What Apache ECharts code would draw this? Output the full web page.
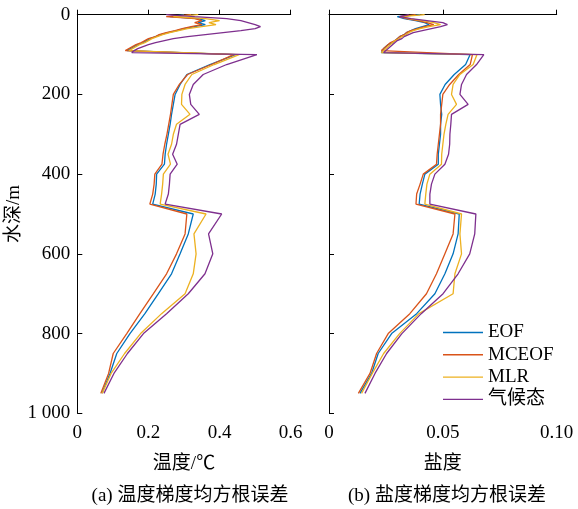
<!DOCTYPE html>
<html><head><meta charset="utf-8">
<script src="https://cdn.jsdelivr.net/npm/echarts@6/dist/echarts.min.js"></script>
<style>html,body{margin:0;padding:0;background:#fff}#c{width:578px;height:509px}</style>
</head><body><div id="c"></div>
<script>
var depths = [0,5,10,15,20,25,30,35,40,45,50,55,60,65,70,75,80,85,90,95,100,
  125,150,175,200,225,250,275,300,325,350,375,400,425,450,475,500,
  550,600,650,700,750,800,850,900,950];
var seriesNames = ['EOF','MCEOF','MLR','气候态'];
var colors = ['#0072BD','#D95319','#EDB120','#7E2F8E'];

var tempEOF = [0.30,0.26,0.34,0.36,0.34,0.36,0.33,0.30,0.28,0.255,0.235,0.22,0.205,0.195,0.185,0.17,0.16,0.15,0.14,0.135,0.445,
  0.373,0.308,0.289,0.275,0.270,0.265,0.261,0.256,0.251,0.247,0.245,0.223,0.222,0.219,0.212,0.326,
  0.312,0.289,0.265,0.228,0.190,0.148,0.111,0.092,0.069];
var tempMCEOF = [0.32,0.25,0.33,0.35,0.33,0.35,0.32,0.295,0.275,0.25,0.23,0.22,0.20,0.19,0.18,0.165,0.155,0.145,0.135,0.13,0.44,
  0.377,0.31,0.287,0.270,0.266,0.262,0.257,0.252,0.246,0.241,0.238,0.218,0.216,0.212,0.204,0.308,
  0.303,0.279,0.251,0.214,0.176,0.139,0.101,0.088,0.066];
var tempMLR = [0.34,0.27,0.36,0.40,0.37,0.39,0.35,0.31,0.285,0.26,0.24,0.225,0.21,0.20,0.19,0.175,0.165,0.155,0.145,0.14,0.455,
  0.385,0.322,0.303,0.294,0.293,0.317,0.279,0.270,0.265,0.255,0.262,0.242,0.240,0.237,0.233,0.362,
  0.328,0.334,0.326,0.303,0.237,0.178,0.133,0.095,0.070];
var tempClim = [0.25,0.33,0.42,0.46,0.48,0.50,0.515,0.50,0.46,0.41,0.36,0.31,0.27,0.245,0.22,0.20,0.185,0.17,0.16,0.153,0.505,
  0.42,0.354,0.326,0.315,0.319,0.343,0.289,0.284,0.279,0.268,0.281,0.261,0.259,0.256,0.247,0.406,
  0.369,0.381,0.359,0.312,0.251,0.186,0.141,0.103,0.075];

var saltEOF = [0.040,0.030,0.033,0.038,0.042,0.044,0.041,0.038,0.036,0.034,0.033,0.031,0.030,0.029,0.028,0.026,0.026,0.024,0.024,0.023,0.062,
  0.060,0.055,0.051,0.0487,0.049,0.0495,0.049,0.049,0.0485,0.048,0.048,0.0421,0.041,0.040,0.0396,0.0572,
  0.0567,0.0545,0.0509,0.0465,0.0385,0.0275,0.0216,0.0187,0.0136];
var saltMCEOF = [0.038,0.031,0.034,0.039,0.043,0.046,0.042,0.039,0.036,0.034,0.033,0.031,0.030,0.029,0.027,0.027,0.025,0.025,0.023,0.023,0.063,
  0.062,0.057,0.053,0.050,0.0495,0.049,0.049,0.0485,0.048,0.0475,0.0472,0.0414,0.040,0.0385,0.0382,0.0553,
  0.0545,0.0509,0.0472,0.0428,0.0355,0.026,0.0209,0.018,0.0129];
var saltMLR = [0.042,0.032,0.035,0.041,0.046,0.049,0.044,0.040,0.037,0.035,0.034,0.032,0.031,0.029,0.028,0.027,0.026,0.025,0.024,0.023,0.065,
  0.0633,0.0575,0.0545,0.0538,0.056,0.0523,0.0513,0.0505,0.050,0.0495,0.0494,0.0443,0.043,0.0425,0.0421,0.0582,
  0.0575,0.0582,0.0553,0.0545,0.0395,0.031,0.024,0.019,0.0143];
var saltClim = [0.035,0.031,0.036,0.043,0.050,0.052,0.049,0.045,0.041,0.037,0.035,0.033,0.032,0.030,0.029,0.028,0.027,0.026,0.025,0.024,0.068,
  0.0648,0.0604,0.0582,0.0575,0.0611,0.0538,0.0535,0.0531,0.053,0.0525,0.0509,0.0465,0.045,0.0443,0.0443,0.0645,
  0.064,0.0618,0.0567,0.0501,0.0405,0.032,0.0253,0.0202,0.0158];

var yTicks = [0,200,400,600,800,1000];
var yTickLabels = ['0','200','400','600','800','1 000'];
var tempTickLabels = ['0','0.2','0.4','0.6'];
var saltTickLabels = ['0','0.05','0.10'];

var FONT = "'Liberation Serif','Noto Sans CJK SC',serif";

function pairs(vals){ return vals.map(function(v,i){ return [v, depths[i]]; }); }

var tempSets = [tempEOF,tempMCEOF,tempMLR,tempClim];
var saltSets = [saltEOF,saltMCEOF,saltMLR,saltClim];
var series = [];
[tempSets, saltSets].forEach(function(sets, gi){
  sets.forEach(function(vals, k){
    series.push({
      name: seriesNames[k], type:'line', xAxisIndex:gi, yAxisIndex:gi,
      data: pairs(vals), symbol:'none', showSymbol:false, animation:false,
      lineStyle:{color:colors[k], width:1.3}, itemStyle:{color:colors[k]}
    });
  });
});

function xAxisCfg(gi, max, interval, labels, name){
  return {
    type:'value', gridIndex:gi, min:0, max:max, interval:interval,
    name:name, nameLocation:'middle', nameGap:41,
    nameTextStyle:{fontFamily:FONT, fontSize:19, color:'#000'},
    axisLine:{show:true, lineStyle:{color:'#000', width:1}},
    axisTick:{show:true, inside:true, length:5, lineStyle:{color:'#000'}},
    axisLabel:{fontFamily:FONT, fontSize:19, color:'#000', margin:10,
      formatter:function(v){ var i=Math.round(v/interval); return labels[i]; }},
    splitLine:{show:false}
  };
}
function yAxisCfg(gi, showLabel){
  return {
    type:'value', gridIndex:gi, min:0, max:1000, interval:200, inverse:true,
    name: showLabel ? '水深/m' : '', nameLocation:'middle', nameGap:53, nameRotate:90,
    nameTextStyle:{fontFamily:FONT, fontSize:19, color:'#000'},
    axisLine:{show:true, onZero:false, lineStyle:{color:'#000', width:1}},
    axisTick:{show:true, inside:true, length:5, lineStyle:{color:'#000'}},
    axisLabel:{show:showLabel, fontFamily:FONT, fontSize:19, color:'#000', margin:7,
      formatter:function(v){ return yTickLabels[yTicks.indexOf(v)]; }},
    splitLine:{show:false}
  };
}

var chart = echarts.init(document.getElementById('c'), null, {renderer:'canvas'});
chart.setOption({
  backgroundColor:'#fff',
  animation:false,
  grid:[
    {left:77.3, top:14.7, width:213.4, height:398.6},
    {left:329, top:14.7, width:227.7, height:398.6}
  ],
  xAxis:[ xAxisCfg(0, 0.6, 0.2, tempTickLabels, '温度/℃'),
          xAxisCfg(1, 0.1, 0.05, saltTickLabels, '盐度') ],
  yAxis:[ yAxisCfg(0, true), yAxisCfg(1, false) ],
  legend:{
    data:seriesNames, orient:'vertical', left:438, top:318,
    itemWidth:40, itemHeight:14, itemGap:3.3, icon:'path://M0,0L40,0L40,1.4L0,1.4Z',
    textStyle:{fontFamily:FONT, fontSize:19, color:'#000', lineHeight:19}
  },
  title:[
    {text:'(a) 温度梯度均方根误差', left:185, top:482, textAlign:'center',
     textStyle:{fontFamily:FONT, fontSize:19, fontWeight:'normal', color:'#000'}},
    {text:'(b) 盐度梯度均方根误差', left:442, top:482, textAlign:'center',
     textStyle:{fontFamily:FONT, fontSize:19, fontWeight:'normal', color:'#000'}}
  ],
  series: series
});
</script></body></html>
